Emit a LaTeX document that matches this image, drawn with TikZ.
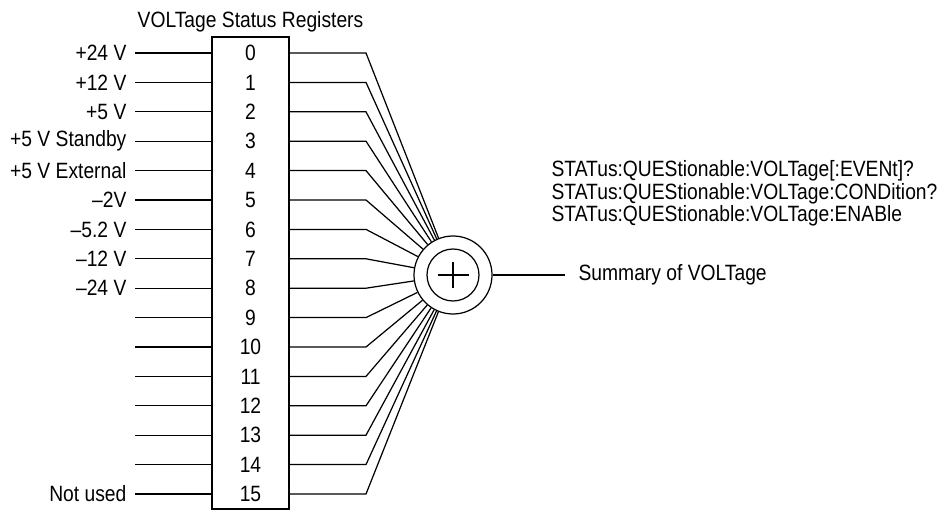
\documentclass[tikz,border=0pt]{standalone}
\usepackage{fontspec}
\setmainfont{Liberation Sans}[FakeStretch=0.87]
\usepackage{tikz}
\usetikzlibrary{positioning}

\begin{document}
\begin{tikzpicture}[x=0.2mm,y=-0.2mm,font=\fontsize{12.6}{10.9}\selectfont,line width=0.7pt,
  regbox/.style={draw,minimum width=15.4mm,minimum height=94.4mm,inner sep=0pt},
  sumring/.style={draw,circle,inner sep=0pt,minimum size=#1},
  lbl/.style={inner sep=0pt}]
  \useasboundingbox (0,0) rectangle (948,512);
  % register box with its bits
  \node[regbox] (reg) at (250.5,273) {};
  \node[anchor=base] (title) at (250.5,28) {VOLTage Status Registers};
  % summing junction
  \node[sumring=15.6mm] (sum) at (453,275) {};
  \node[sumring=10.4mm] (sumin) at (sum) {};
  \draw (sum.center) ++(-15.5,0) -- ++(31,0);
  \draw (sum.center) ++(0,-13) -- ++(0,26);
  \foreach \i in {0,...,15}
     {\node (r\i) at (250.5,{53+29.4*\i}) {\i};
      \coordinate (in\i) at (135,{53+29.4*\i});
      \coordinate (k\i) at (366,{53+29.4*\i});
      \draw (in\i) -- (in\i -| reg.west);
      \draw (r\i -| reg.east) -- (k\i) -- (sum);}
  \foreach \i/\lab in {0/+24 V,1/+12 V,2/+5 V,3/+5 V Standby,4/+5 V External,
     5/–2V,6/–5.2 V,7/–12 V,8/–24 V,15/Not used}
     {\node[lbl,left=1.6mm of in\i] (lab\i) {\lab};}
  % queries and summary output
  \node[lbl,anchor=north west,align=left] (query) at (551,160)
     {STATus:QUEStionable:VOLTage[:EVENt]?\\
      STATus:QUEStionable:VOLTage:CONDition?\\
      STATus:QUEStionable:VOLTage:ENABle};
  \node[anchor=west,inner xsep=2.6mm,inner ysep=0pt] (summ) at (565,275) {Summary of VOLTage};
  \draw (sum) -- (summ.west);
\end{tikzpicture}
\end{document}
